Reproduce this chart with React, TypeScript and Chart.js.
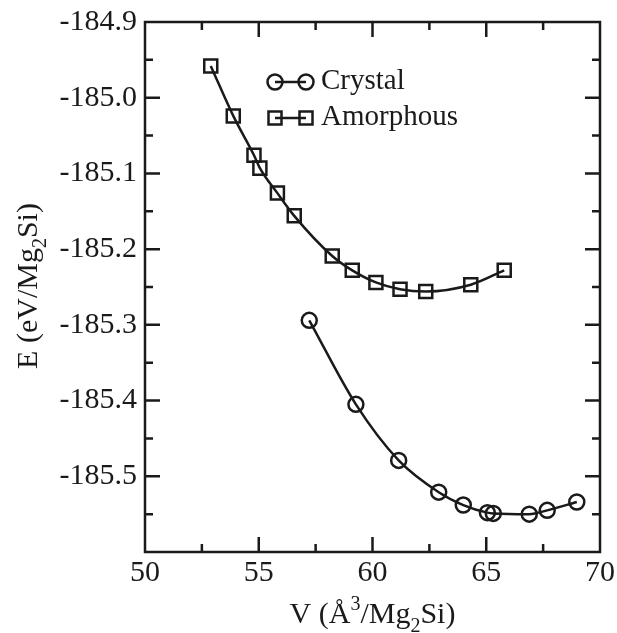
import React, { useEffect, useRef } from "react";
import { Chart, registerables } from "chart.js";

Chart.register(...registerables);

const crystalV = [57.22, 59.27, 61.15, 62.91, 63.99, 65.05, 65.31, 66.89, 67.68, 68.98];
const crystalE = [-185.294, -185.405, -185.479, -185.521, -185.538, -185.548, -185.549, -185.55, -185.545, -185.534];
const amorphV = [52.89, 53.88, 54.79, 55.05, 55.82, 56.56, 58.23, 59.11, 60.15, 61.21, 62.34, 64.32, 65.79];
const amorphE = [-184.958, -185.024, -185.076, -185.093, -185.126, -185.156, -185.209, -185.228, -185.244, -185.253, -185.256, -185.247, -185.228];
const seriesLabels = ["Crystal", "Amorphous"];
const xTicks = [50, 55, 60, 65, 70];
const yTicks = [-185.6, -185.5, -185.4, -185.3, -185.2, -185.1, -185.0, -184.9];

const FONT = "'Liberation Serif', 'DejaVu Serif', serif";
const INK = "#1a1a1a";

type Seg = { t: string; k?: "sub" | "sup" };

function drawRich(ctx: CanvasRenderingContext2D, segs: Seg[], size: number) {
  const small = Math.round(size * 0.68);
  const widths = segs.map((s) => {
    ctx.font = `${s.k ? small : size}px ${FONT}`;
    return ctx.measureText(s.t).width;
  });
  const total = widths.reduce((a, b) => a + b, 0);
  let x = -total / 2;
  segs.forEach((s, i) => {
    ctx.font = `${s.k ? small : size}px ${FONT}`;
    const dy = s.k === "sub" ? size * 0.3 : s.k === "sup" ? -size * 0.45 : 0;
    ctx.fillText(s.t, x, dy);
    x += widths[i];
  });
}

const framePlugin = {
  id: "frame",
  afterDraw(chart: any) {
    const ctx: CanvasRenderingContext2D = chart.ctx;
    const { left, right, top, bottom } = chart.chartArea;
    const xs = chart.scales.x;
    const ys = chart.scales.y;
    ctx.save();
    ctx.strokeStyle = INK;
    ctx.lineWidth = 2.5;
    ctx.lineCap = "butt";
    ctx.strokeRect(left, top, right - left, bottom - top);
    ctx.beginPath();
    const major = 15;
    const minor = 8;
    for (let i = 0; i < xTicks.length; i++) {
      const px = xs.getPixelForValue(xTicks[i]);
      if (i > 0 && i < xTicks.length - 1) {
        ctx.moveTo(px, bottom); ctx.lineTo(px, bottom - major);
        ctx.moveTo(px, top); ctx.lineTo(px, top + major);
      }
      if (i < xTicks.length - 1) {
        const pm = xs.getPixelForValue((xTicks[i] + xTicks[i + 1]) / 2);
        ctx.moveTo(pm, bottom); ctx.lineTo(pm, bottom - minor);
        ctx.moveTo(pm, top); ctx.lineTo(pm, top + minor);
      }
    }
    for (let i = 0; i < yTicks.length; i++) {
      const py = ys.getPixelForValue(yTicks[i]);
      if (i > 0 && i < yTicks.length - 1) {
        ctx.moveTo(left, py); ctx.lineTo(left + major, py);
        ctx.moveTo(right, py); ctx.lineTo(right - major, py);
      }
      if (i < yTicks.length - 1) {
        const pm = ys.getPixelForValue((yTicks[i] + yTicks[i + 1]) / 2);
        ctx.moveTo(left, pm); ctx.lineTo(left + minor, pm);
        ctx.moveTo(right, pm); ctx.lineTo(right - minor, pm);
      }
    }
    ctx.stroke();

    // legend
    const lx1 = 275, lx2 = 306, tx = 321;
    const rows = [82, 118];
    ctx.lineWidth = 2.5;
    rows.forEach((ry, idx) => {
      ctx.beginPath();
      ctx.moveTo(lx1, ry); ctx.lineTo(lx2, ry);
      ctx.stroke();
      [lx1, lx2].forEach((cx) => {
        ctx.beginPath();
        if (idx === 0) ctx.arc(cx, ry, 7.5, 0, Math.PI * 2);
        else ctx.rect(cx - 6.5, ry - 6.5, 13, 13);
        ctx.stroke();
      });
      ctx.fillStyle = INK;
      ctx.font = `29px ${FONT}`;
      ctx.textAlign = "left";
      ctx.textBaseline = "alphabetic";
      ctx.fillText(seriesLabels[idx], tx, ry + 7);
    });

    // axis titles
    ctx.fillStyle = INK;
    ctx.textAlign = "left";
    ctx.textBaseline = "alphabetic";
    ctx.save();
    ctx.translate((left + right) / 2, 623);
    drawRich(ctx, [{ t: "V (Å" }, { t: "3", k: "sup" }, { t: "/Mg" }, { t: "2", k: "sub" }, { t: "Si)" }], 30);
    ctx.restore();
    ctx.save();
    ctx.translate(37, (top + bottom) / 2 - 1);
    ctx.rotate(-Math.PI / 2);
    drawRich(ctx, [{ t: "E (eV/Mg" }, { t: "2", k: "sub" }, { t: "Si)" }], 30);
    ctx.restore();
    ctx.restore();
  },
};

export default function App() {
  const ref = useRef<HTMLCanvasElement | null>(null);
  useEffect(() => {
    document.body.style.margin = "0";
    const canvas = ref.current;
    if (!canvas) return;
    const chart = new Chart(canvas, {
      type: "line",
      data: {
        datasets: [
          {
            label: seriesLabels[0],
            data: crystalV.map((v, i) => ({ x: v, y: crystalE[i] })),
            borderColor: INK,
            borderWidth: 2.5,
            pointStyle: "circle",
            pointRadius: 7.5,
            pointBorderWidth: 2.5,
            pointBackgroundColor: "rgba(255,255,255,0)",
            pointBorderColor: INK,
            cubicInterpolationMode: "monotone",
            fill: false,
          },
          {
            label: seriesLabels[1],
            data: amorphV.map((v, i) => ({ x: v, y: amorphE[i] })),
            borderColor: INK,
            borderWidth: 2.5,
            pointStyle: "rect",
            pointRadius: 9.2,
            pointBorderWidth: 2.5,
            pointBackgroundColor: "rgba(255,255,255,0)",
            pointBorderColor: INK,
            cubicInterpolationMode: "monotone",
            fill: false,
          },
        ],
      },
      options: {
        animation: false,
        responsive: false,
        maintainAspectRatio: false,
        layout: { padding: { top: 22, right: 17, left: 0, bottom: 0 } },
        plugins: { legend: { display: false }, tooltip: { enabled: false } },
        scales: {
          x: {
            type: "linear",
            min: 50,
            max: 70,
            grid: { display: false, drawTicks: false },
            border: { display: false },
            afterBuildTicks: (s: any) => {
              s.ticks = xTicks.map((v) => ({ value: v }));
            },
            afterFit: (s: any) => {
              s.height = 81;
              s.paddingLeft = 0;
              s.paddingRight = 0;
            },
            ticks: {
              padding: 3,
              color: INK,
              font: { family: FONT, size: 30 },
              maxRotation: 0,
              callback: (v: any) => String(v),
            },
          },
          y: {
            type: "linear",
            min: -185.6,
            max: -184.9,
            grid: { display: false, drawTicks: false },
            border: { display: false },
            afterBuildTicks: (s: any) => {
              s.ticks = yTicks.map((v) => ({ value: v }));
            },
            afterFit: (s: any) => {
              s.width = 145;
              s.paddingTop = 0;
              s.paddingBottom = 0;
            },
            ticks: {
              padding: 8,
              color: INK,
              font: { family: FONT, size: 30 },
              callback: (v: any) => {
                const r = Math.round(Number(v) * 10) / 10;
                if (Math.abs(r + 185.6) < 1e-6) return "";
                return r.toFixed(1);
              },
            },
          },
        },
      },
      plugins: [framePlugin],
    } as any);
    return () => chart.destroy();
  }, []);
  return (
    <div style={{ width: 617, height: 633, background: "#fff" }}>
      <canvas ref={ref} width={617} height={633} style={{ display: "block" }} />
    </div>
  );
}
